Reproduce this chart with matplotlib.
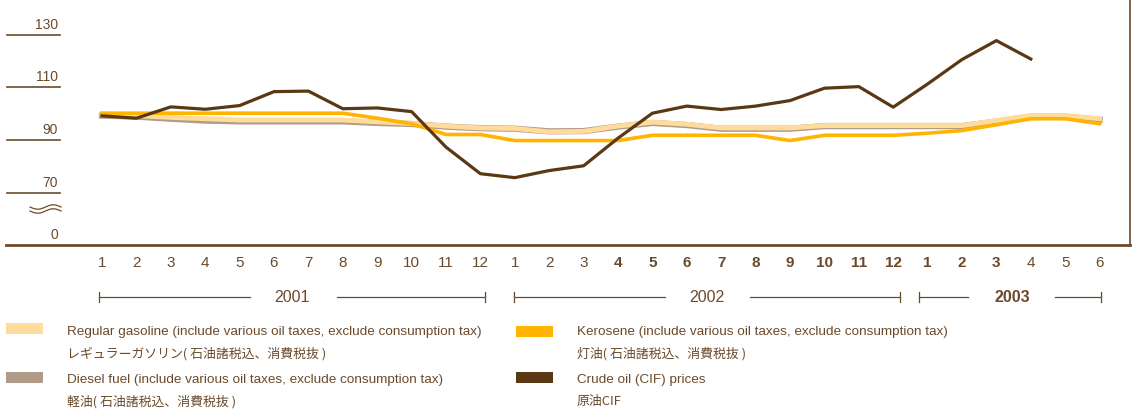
import numpy as np
import matplotlib.pyplot as plt
from matplotlib.patches import Rectangle

plt.rcParams['font.family'] = ['Liberation Sans', 'Noto Sans CJK JP']

months = [1, 2, 3, 4, 5, 6, 7, 8, 9, 10, 11, 12,
          1, 2, 3, 4, 5, 6, 7, 8, 9, 10, 11, 12,
          1, 2, 3, 4, 5, 6]
bold_months = list(range(15, 27))  # 2002/4 .. 2003/3

gasoline = [99.8, 99.2, 98.5, 98.0, 97.5, 97.5, 97.5, 97.5, 96.8, 96.2, 95.2, 94.5,
            94.3, 93.0, 93.2, 95.2, 96.7, 95.9, 94.5, 94.5, 94.5, 95.4, 95.4, 95.4,
            95.4, 95.4, 97.3, 99.2, 99.2, 98.0]
diesel = [99.2, 98.8, 98.0, 97.3, 97.0, 97.0, 97.0, 97.0, 96.4, 96.0, 95.0, 94.4,
          94.2, 93.2, 93.3, 95.0, 96.4, 95.6, 94.2, 94.2, 94.2, 95.2, 95.2, 95.2,
          95.2, 95.2, 96.9, 98.8, 98.8, 97.6]
kerosene = [100.1, 100.1, 100.1, 100.1, 100.1, 100.1, 100.1, 100.1, 98.2, 96.1, 92.0, 92.0,
            89.7, 89.7, 89.7, 89.7, 91.7, 91.7, 91.7, 91.7, 89.7, 91.7, 91.7, 91.7,
            92.5, 93.5, 95.7, 98.0, 98.0, 96.1]
crude = [99.1, 98.2, 102.5, 101.6, 103.0, 108.3, 108.5, 101.8, 102.1, 100.7, 87.2, 77.1,
         75.6, 78.3, 80.1, 90.6, 100.1, 102.8, 101.5, 102.8, 104.9, 109.6, 110.2, 102.4,
         111.2, 120.5, 127.7, 120.7]

ytick_vals = [130, 110, 90, 70]
years = ['2001', '2002', '2003']

brown = '#6b4a2b'
c_gas = '#ffdc9c'
c_diesel = '#b09a88'
c_kero = '#ffb400'
c_crude = '#5a3813'

W, H = 1132, 410
fig = plt.figure(figsize=(W / 100, H / 100), dpi=100)

# main axes: x pixel 6..1130, y pixel 0..246
ax = fig.add_axes([6 / W, 1 - 246 / H, (1130 - 6) / W, 246 / H])
x0, dx = 102, 34.4
ax.set_xlim((6 - x0) / dx, (1130 - x0) / dx)
ax.set_ylim(50, 90 + 141 / 2.635)

x = np.arange(len(months))
ax.plot(x, diesel, color=c_diesel, lw=4.5, zorder=2)
ax.plot(x, gasoline, color=c_gas, lw=3.5, zorder=3)
ax.plot(x, kerosene, color=c_kero, lw=2.6, zorder=4)
ax.plot(x[:len(crude)], crude, color=c_crude, lw=2.3, zorder=5)

for s in ['top', 'left']:
    ax.spines[s].set_visible(False)
ax.spines['bottom'].set_color(brown)
ax.spines['bottom'].set_linewidth(2)
ax.spines['right'].set_color(brown)
ax.spines['right'].set_linewidth(1.2)
ax.set_xticks([])
ax.set_yticks([])


def px(xp, yp):
    return xp / W, 1 - yp / H


def val_to_py(v):
    return 141 - (v - 90) * 2.635


# y tick marks and labels
for v in ytick_vals:
    yp = val_to_py(v)
    fig.add_artist(plt.Line2D([7 / W, 60 / W], [1 - yp / H] * 2, color=brown, lw=1.2))
    fig.text(*px(58, yp - 4), str(v), ha='right', va='bottom', color=brown, fontsize=10)
fig.text(*px(58, 242), '0', ha='right', va='bottom', color=brown, fontsize=10)

# axis break squiggle
t = np.linspace(0, 1, 60)
for off in (-2, 2):
    xs = 30 + 31 * t
    ys = 210 + off + 2.2 * np.sin(t * 2 * np.pi)
    fig.add_artist(plt.Line2D(xs / W, 1 - ys / H, color=brown, lw=0.9))

# month labels
for i, m in enumerate(months):
    fw = 'bold' if i in bold_months else 'normal'
    fig.text(*px(x0 + dx * i, 263), str(m), ha='center', va='center',
             color=brown, fontsize=11, fontweight=fw)

# year brackets
brackets = [((99, 250), (337, 485), 292, years[0], 'normal'),
            ((514, 665), (750, 900), 707, years[1], 'normal'),
            ((919, 968), (1055, 1101), 1012, years[2], 'bold')]
yb = 298
for (a1, a2), (b1, b2), tx, label, fw in brackets:
    for xa, xb in ((a1, a2), (b1, b2)):
        fig.add_artist(plt.Line2D([xa / W, xb / W], [1 - yb / H] * 2, color=brown, lw=0.9))
    for xe in (a1, b2):
        fig.add_artist(plt.Line2D([xe / W] * 2, [1 - (yb - 5) / H, 1 - (yb + 5) / H],
                                  color=brown, lw=0.9))
    fig.text(*px(tx, yb), label, ha='center', va='center', color=brown,
             fontsize=11.5, fontweight=fw)

# legend
legend_items = [
    (6, 324, c_gas, 67, 'Regular gasoline (include various oil taxes, exclude consumption tax)',
     'レギュラーガソリン( 石油諸税込、消費税抜 )'),
    (6, 373, c_diesel, 67, 'Diesel fuel (include various oil taxes, exclude consumption tax)',
     '軽油( 石油諸税込、消費税抜 )'),
    (516, 327, c_kero, 577, 'Kerosene (include various oil taxes, exclude consumption tax)',
     '灯油( 石油諸税込、消費税抜 )'),
    (516, 373, c_crude, 577, 'Crude oil (CIF) prices', '原油CIF'),
]
for bx, by, col, tx, en, jp in legend_items:
    fig.add_artist(Rectangle(px(bx, by + 11), 37 / W, 11 / H, color=col, lw=0))
    ty = 332 if by < 350 else 380
    fig.text(*px(tx, ty), en, ha='left', va='center', color=brown, fontsize=9.7)
    fig.text(*px(tx, ty + 22), jp, ha='left', va='center', color=brown, fontsize=9.3,
             family=['Noto Sans CJK JP', 'DejaVu Sans'])

fig.savefig('out.png', dpi=100)
